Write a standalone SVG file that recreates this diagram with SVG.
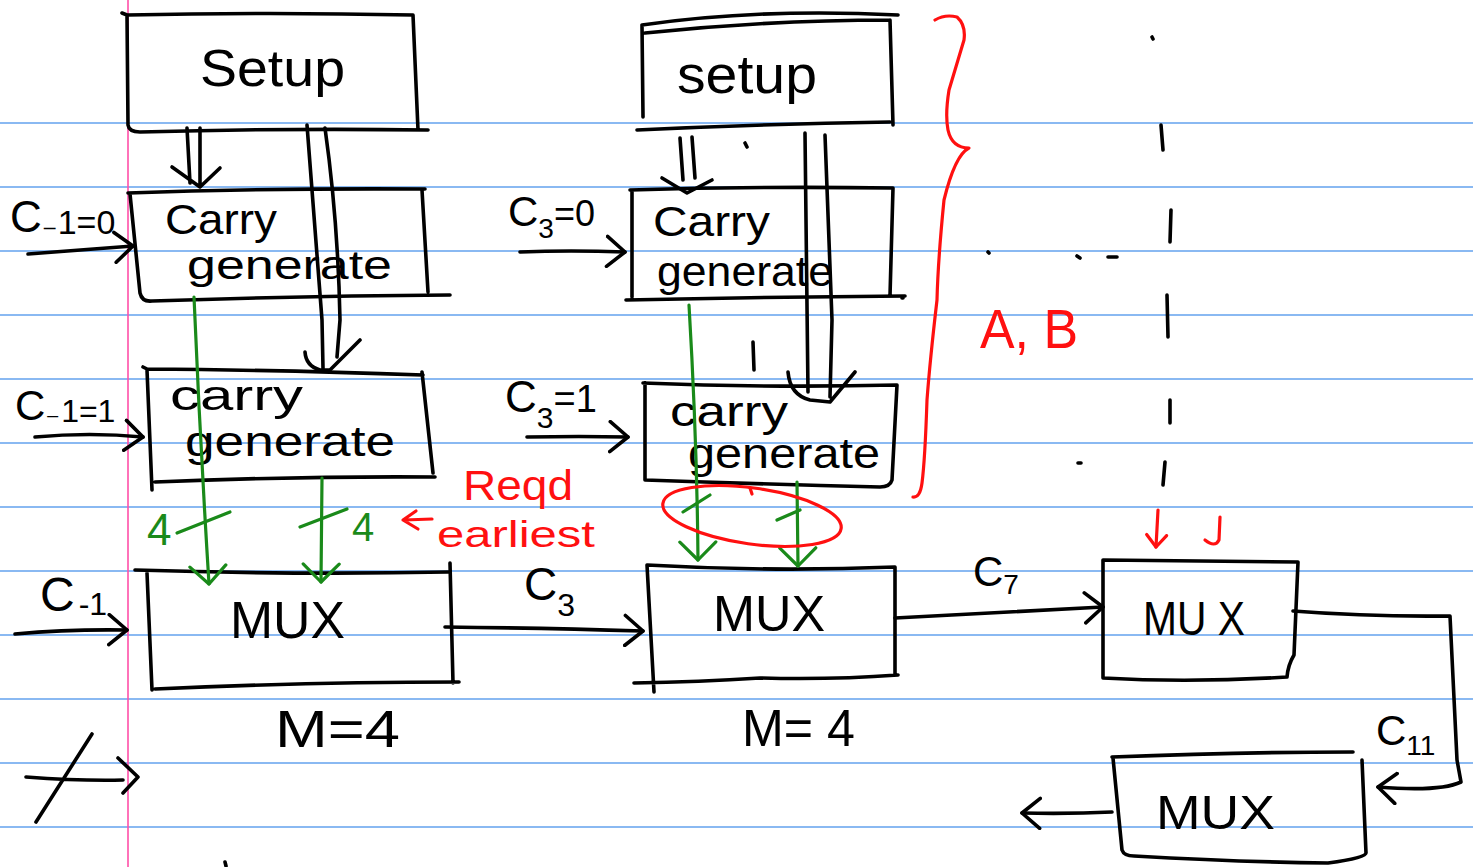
<svg xmlns="http://www.w3.org/2000/svg" width="1473" height="867" viewBox="0 0 1473 867">
<style>
.rule{stroke:#63a2ee;stroke-width:1.6}
.ink{fill:none;stroke:#000;stroke-width:3.6;stroke-linecap:round;stroke-linejoin:round}
.g{fill:none;stroke:#1a8a1a;stroke-width:3.2;stroke-linecap:round;stroke-linejoin:round}
.r{fill:none;stroke:#ff1010;stroke-width:3.2;stroke-linecap:round;stroke-linejoin:round}
text{font-family:"Liberation Sans","DejaVu Sans",sans-serif;fill:#000}
.gt{fill:#1a8a1a}
.rt{fill:#ff1010}
</style>
<defs>
<marker id="ak" viewBox="0 0 22 34" refX="20" refY="17" markerWidth="22" markerHeight="34" markerUnits="userSpaceOnUse" orient="auto"><path d="M2,2 L20,17 L2,32" fill="none" stroke="#000" stroke-width="3.6" stroke-linecap="round" stroke-linejoin="round"/></marker>
<marker id="ag" viewBox="0 0 22 40" refX="20" refY="20" markerWidth="22" markerHeight="40" markerUnits="userSpaceOnUse" orient="auto"><path d="M2,2 L20,20 L2,38" fill="none" stroke="#1a8a1a" stroke-width="3.2" stroke-linecap="round" stroke-linejoin="round"/></marker>
<marker id="ar" viewBox="0 0 16 24" refX="14" refY="12" markerWidth="16" markerHeight="24" markerUnits="userSpaceOnUse" orient="auto"><path d="M2,2 L14,12 L2,22" fill="none" stroke="#ff1010" stroke-width="3.2" stroke-linecap="round" stroke-linejoin="round"/></marker>
</defs>
<rect width="1473" height="867" fill="#fff"/>
<g id="paper">
<line class="rule" x1="0" y1="123" x2="1473" y2="123"/>
<line class="rule" x1="0" y1="187" x2="1473" y2="187"/>
<line class="rule" x1="0" y1="251" x2="1473" y2="251"/>
<line class="rule" x1="0" y1="315" x2="1473" y2="315"/>
<line class="rule" x1="0" y1="379" x2="1473" y2="379"/>
<line class="rule" x1="0" y1="443" x2="1473" y2="443"/>
<line class="rule" x1="0" y1="507" x2="1473" y2="507"/>
<line class="rule" x1="0" y1="571" x2="1473" y2="571"/>
<line class="rule" x1="0" y1="635" x2="1473" y2="635"/>
<line class="rule" x1="0" y1="699" x2="1473" y2="699"/>
<line class="rule" x1="0" y1="763" x2="1473" y2="763"/>
<line class="rule" x1="0" y1="827" x2="1473" y2="827"/>
<line x1="128" y1="0" x2="128" y2="867" stroke="#ff4fa8" stroke-width="1.6"/>
</g>

<g id="setup1">
<path class="ink" d="M122,13 L127,15 Q270,12 413,15 L418,130 M127,15 L128,125 Q129,132 140,132 Q290,128 428,130"/>
<text x="200" y="86" font-size="52" textLength="145" lengthAdjust="spacingAndGlyphs">Setup</text>
</g>
<g id="setup2">
<path class="ink" d="M642,25 Q760,8 898,15 M645,33 Q770,20 890,20 M642,25 L643,117 M890,20 L893,125 M637,130 Q760,124 890,122"/>
<text x="677" y="93" font-size="54" textLength="140" lengthAdjust="spacingAndGlyphs">setup</text>
</g>

<g id="carry1a">
<path class="ink" d="M128,193 Q270,188 425,189 M130,194 L140,293 Q142,302 152,301 Q300,296 450,295 M422,190 L428,292"/>
<text x="165" y="234" font-size="42" textLength="112" lengthAdjust="spacingAndGlyphs">Carry</text>
<text x="187" y="279" font-size="40" textLength="205" lengthAdjust="spacingAndGlyphs">generate</text>
</g>
<g id="carry1b">
<path class="ink" d="M143,367 L147,369 Q280,370 423,375 M147,370 L152,490 M155,482 Q300,476 435,477 M422,372 L433,473"/>
<text x="170" y="410" font-size="42" textLength="133" lengthAdjust="spacingAndGlyphs">carry</text>
<text x="185" y="456" font-size="42" textLength="210" lengthAdjust="spacingAndGlyphs">generate</text>
</g>
<g id="carry2a">
<path class="ink" d="M630,190 Q760,186 893,188 L890,296 M632,192 L632,297 M626,300 Q760,297 905,296"/>
<text x="653" y="236" font-size="42" textLength="117" lengthAdjust="spacingAndGlyphs">Carry</text>
<text x="657" y="286" font-size="42" textLength="176" lengthAdjust="spacingAndGlyphs">generate</text>
</g>
<g id="carry2b">
<path class="ink" d="M643,383 Q770,388 897,385 L892,480 Q890,487 880,487 Q760,484 645,480 L645,383"/>
<text x="670" y="426" font-size="42" textLength="118" lengthAdjust="spacingAndGlyphs">carry</text>
<text x="688" y="468" font-size="42" textLength="192" lengthAdjust="spacingAndGlyphs">generate</text>
</g>

<g id="mux1">
<path class="ink" d="M135,570 Q300,575 448,572 M147,573 L152,690 M155,689 Q310,682 459,682 M450,563 L453,683"/>
<text x="230" y="638" font-size="52" textLength="115" lengthAdjust="spacingAndGlyphs">MUX</text>
</g>
<g id="mux2">
<path class="ink" d="M647,565 Q770,572 895,567 L895,675 M647,565 L654,692 M634,683 Q700,682 760,678 Q830,680 898,675"/>
<text x="713" y="631" font-size="50" textLength="112" lengthAdjust="spacingAndGlyphs">MUX</text>
</g>
<g id="mux3">
<path class="ink" d="M1103,560 Q1200,561 1298,562 L1294,655 Q1288,665 1287,677 Q1190,683 1103,678 L1103,560"/>
<text x="1143" y="635" font-size="48" textLength="102" lengthAdjust="spacingAndGlyphs">MU X</text>
</g>
<g id="mux4">
<path class="ink" d="M1112,757 Q1240,752 1353,752 M1113,758 L1122,850 Q1124,856 1134,856 Q1240,862 1328,863 Q1366,858 1366,853 L1362,760"/>
<text x="1156" y="829" font-size="48" textLength="119" lengthAdjust="spacingAndGlyphs">MUX</text>
</g>

<g id="labels">
<text x="10" y="232" font-size="44">C<tspan font-size="30" dy="2">₋</tspan><tspan font-size="34">1=0</tspan></text>
<text x="15" y="420" font-size="42">C<tspan font-size="28" dy="2">₋</tspan><tspan font-size="32" dx="1">1=1</tspan></text>
<text x="508" y="226" font-size="42">C<tspan font-size="28" dy="12">3</tspan><tspan font-size="36" dy="-12">=0</tspan></text>
<text x="505" y="412" font-size="44">C<tspan font-size="30" dy="16">3</tspan><tspan font-size="38" dy="-16">=1</tspan></text>
<text x="40" y="611" font-size="48">C<tspan font-size="32" dx="4" dy="4">-1</tspan></text>
<text x="524" y="600" font-size="46">C<tspan font-size="32" dy="16">3</tspan></text>
<text x="973" y="586" font-size="42">C<tspan font-size="28" dy="8">7</tspan></text>
<text x="1376" y="745" font-size="42">C<tspan font-size="28" dy="10">11</tspan></text>
<text x="275" y="747" font-size="52" textLength="125" lengthAdjust="spacingAndGlyphs">M=4</text>
<text x="742" y="746" font-size="52" textLength="113" lengthAdjust="spacingAndGlyphs">M= 4</text>
<text class="gt" x="147" y="545" font-size="44">4</text>
<text class="gt" x="352" y="541" font-size="40">4</text>
<text class="rt" x="463" y="500" font-size="42" textLength="110" lengthAdjust="spacingAndGlyphs">Reqd</text>
<text class="rt" x="437" y="547" font-size="36" textLength="158" lengthAdjust="spacingAndGlyphs">earliest</text>
<text class="rt" x="980" y="348" font-size="56" textLength="98" lengthAdjust="spacingAndGlyphs">A, B</text>
</g>

<g id="connectors">
<path class="ink" d="M187,128 L190,183 M200,128 L200,185 M172,167 L200,187 L220,168"/>
<path class="ink" d="M307,125 L322,320 L323,368 M325,128 Q338,220 340,320 L337,357 M305,352 Q306,366 320,370 L330,370 L360,340"/>
<path class="ink" d="M680,138 L683,180 M692,137 L695,178 M662,178 L687,193 L712,180"/>
<path class="ink" d="M805,133 L808,392 M825,135 L832,320 L830,397 M788,372 Q790,395 810,400 L830,402 L855,372"/>
<path class="ink" d="M753,342 L754,370 M745,143 L747,147"/>
<path class="ink" d="M28,254 L133,246" marker-end="url(#ak)"/>
<path class="ink" d="M35,437 Q90,432 143,437" marker-end="url(#ak)"/>
<path class="ink" d="M520,252 Q570,250 625,252" marker-end="url(#ak)"/>
<path class="ink" d="M527,437 Q580,436 628,437" marker-end="url(#ak)"/>
<path class="ink" d="M15,634 Q70,629 127,630" marker-end="url(#ak)"/>
<path class="ink" d="M445,627 Q540,628 643,631" marker-end="url(#ak)"/>
<path class="ink" d="M895,618 Q1000,612 1103,607" marker-end="url(#ak)"/>
<path class="ink" d="M1293,611 Q1370,617 1450,616 L1457,760 L1461,782 Q1440,792 1378,787" marker-end="url(#ak)"/>
<path class="ink" d="M1112,812 Q1070,814 1022,813" marker-end="url(#ak)"/>
<path class="ink" d="M26,777 Q80,781 123,780 M118,758 L138,777 L123,793 M92,734 L36,822"/>
<path class="g" d="M194,297 Q200,440 209,584" marker-end="url(#ag)"/>
<path class="g" d="M177,533 L230,512"/>
<path class="g" d="M322,478 L321,582" marker-end="url(#ag)"/>
<path class="g" d="M300,527 L347,509"/>
<path class="g" d="M689,305 Q697,440 698,560" marker-end="url(#ag)"/>
<path class="g" d="M683,512 L710,495"/>
<path class="g" d="M797,482 L798,566" marker-end="url(#ag)"/>
<path class="g" d="M777,520 L800,510"/>
<ellipse class="r" cx="752" cy="516" rx="90" ry="28" transform="rotate(8 752 516)"/>
<path class="r" d="M750,488 L752,494"/>
<path class="r" d="M432,519 L404,520 M416,511 L403,520 L418,529"/>
<path class="r" d="M1158,510 L1156,547" marker-end="url(#ar)"/>
<path class="r" d="M1220,517 L1219,540 Q1215,548 1205,540"/>
<path class="r" d="M935,20 Q945,14 957,17 Q966,25 964,40 L949,90 Q945,115 948,130 Q952,148 969,148 Q955,155 944,200 Q938,260 937,300 Q930,360 927,400 Q925,460 922,483 Q920,498 913,497"/>
</g>

<g id="dots">
<path class="ink" d="M1152,37 L1153,39 M1161,125 L1163,150 M1171,210 L1170,242 M1167,295 L1168,337 M1170,400 L1170,423 M1165,462 L1163,485 M988,252 L989,253 M1077,256 L1080,258 M1108,257 L1117,257 M902,298 L903,298 M1078,463 L1081,463 M225,862 L226,866"/>
</g>
</svg>
